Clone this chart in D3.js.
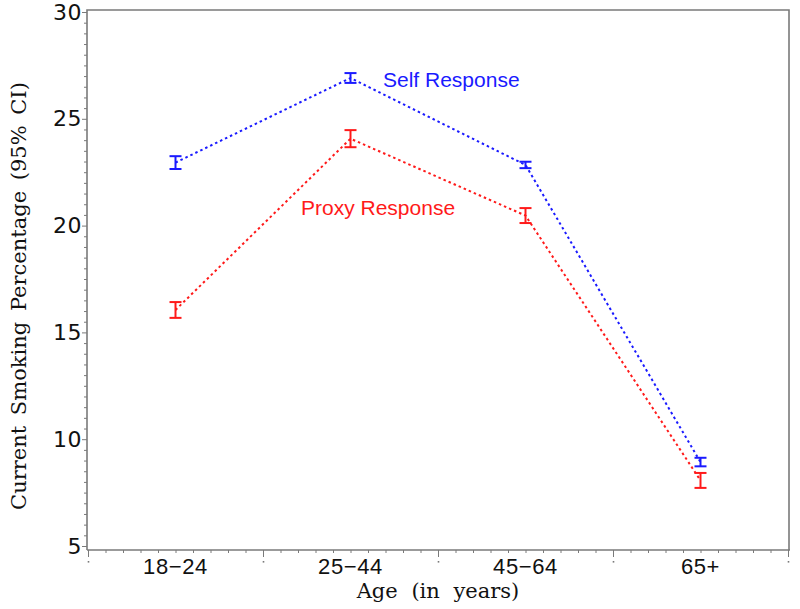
<!DOCTYPE html>
<html><head><meta charset="utf-8">
<script src="https://cdn.jsdelivr.net/npm/d3@7"></script>
<style>body{margin:0;background:#fff}svg{display:block}</style>
</head><body>
<svg id="chart" width="800" height="609"></svg>
<script>
const categories = ["18\u221224", "25\u221244", "45\u221264", "65+"];
const selfValues = [22.95, 26.91, 22.84, 8.93];
const selfLower  = [22.65, 26.68, 22.69, 8.73];
const selfUpper  = [23.25, 27.14, 22.99, 9.13];
const proxyValues = [16.05, 24.07, 20.47, 8.07];
const proxyLower  = [15.68, 23.67, 20.12, 7.72];
const proxyUpper  = [16.42, 24.47, 20.82, 8.42];
const yTicks = [5, 10, 15, 20, 25, 30];
const seriesNames = ["Self Response", "Proxy Response"];
const xTitle = "Age (in years)";
const yTitle = "Current Smoking Percentage (95% CI)";

const svg = d3.select("#chart");
const L = 87, R = 789, T = 10, B = 550;
const x = d3.scaleBand().domain(categories).range([88, 788]).padding(0);
const xLin = d3.scaleLinear().domain([0, categories.length]).range([88, 788]);
const y = d3.scaleLinear().domain([5, 30]).range([546, 12]);
const frameColor = "#7a7a7a";

// frame
svg.append("path")
  .attr("d", `M${L},${B}V${T}H${R}V${B}`)
  .attr("fill", "none").attr("stroke", frameColor).attr("stroke-width", 1.6);

// x axis line + minor ticks
const minorX = d3.range(0, categories.length * 10 + 1).map(d => d / 10);
const gx = svg.append("g").attr("transform", `translate(0,${B})`);
gx.call(d3.axisBottom(xLin).tickValues(minorX).tickSize(3).tickFormat(""));
gx.select(".domain").attr("stroke", frameColor).attr("stroke-width", 1.6).attr("d", `M${L},0H${R+1}`);
gx.selectAll(".tick line").attr("stroke", frameColor).attr("stroke-width", 1)
  .attr("y2", d => (Math.abs(d - Math.round(d)) < 1e-6) ? 7 : 3);
gx.selectAll(".tick").filter(d => Math.abs(d - Math.round(d)) < 1e-6)
  .append("rect").attr("x", -0.8).attr("y", 11).attr("width", 1.6).attr("height", 1.6).attr("fill", frameColor);

// category labels
const gxl = svg.append("g").attr("transform", `translate(0,${B})`);
gxl.call(d3.axisBottom(x).tickSize(0).tickPadding(10));
gxl.select(".domain").remove();
gxl.selectAll(".tick text").attr("font-family", "'Liberation Sans', Arial, sans-serif")
  .attr("font-size", 22).attr("letter-spacing", 0.6).attr("fill", "#111").attr("dy", "0.71em").attr("y", 8);

// y axis ticks
const minorY = d3.range(10, 61).map(d => d / 2);
const gy = svg.append("g").attr("transform", `translate(${L},0)`);
gy.call(d3.axisLeft(y).tickValues(minorY).tickSize(3)
  .tickFormat(d => yTicks.includes(d) ? d : ""));
gy.select(".domain").remove();
gy.selectAll(".tick line").attr("stroke", frameColor).attr("stroke-width", 1)
  .attr("x2", d => yTicks.includes(d) ? -5 : -3);
gy.selectAll(".tick text").attr("x", -5)
  .attr("font-family", "'DejaVu Sans', sans-serif").attr("font-size", 22)
  .attr("letter-spacing", 0.5).attr("fill", "#111");

// axis titles
svg.append("text").attr("x", 438).attr("y", 598).attr("text-anchor", "middle")
  .attr("font-family", "'DejaVu Serif', serif").attr("font-size", 21)
  .attr("word-spacing", 7).attr("fill", "#111").text(xTitle);
svg.append("text").attr("transform", "translate(26,296) rotate(-90)").attr("text-anchor", "middle")
  .attr("font-family", "'DejaVu Serif', serif").attr("font-size", 21)
  .attr("word-spacing", 4).attr("fill", "#111").text(yTitle);

// series
const series = [
  {name: seriesNames[0], color: "#1a1aff", v: selfValues, lo: selfLower, hi: selfUpper},
  {name: seriesNames[1], color: "#ff1a1a", v: proxyValues, lo: proxyLower, hi: proxyUpper}
];
const cx = c => x(c) + x.bandwidth() / 2;
const line = d3.line().x(d => cx(d.c)).y(d => y(d.v));
series.forEach(s => {
  const pts = categories.map((c, i) => ({c, v: s.v[i], lo: s.lo[i], hi: s.hi[i]}));
  svg.append("path").datum(pts).attr("d", line)
    .attr("fill", "none").attr("stroke", s.color).attr("stroke-width", 2)
    .attr("stroke-dasharray", "2.5,3");
  const g = svg.append("g").attr("stroke", s.color).attr("stroke-width", 2);
  g.selectAll("line.v").data(pts).join("line").attr("class", "v")
    .attr("x1", d => cx(d.c)).attr("x2", d => cx(d.c))
    .attr("y1", d => y(d.lo)).attr("y2", d => y(d.hi));
  g.selectAll("line.t").data(pts).join("line").attr("class", "t")
    .attr("x1", d => cx(d.c) - 6).attr("x2", d => cx(d.c) + 6)
    .attr("y1", d => y(d.hi)).attr("y2", d => y(d.hi));
  g.selectAll("line.b").data(pts).join("line").attr("class", "b")
    .attr("x1", d => cx(d.c) - 6).attr("x2", d => cx(d.c) + 6)
    .attr("y1", d => y(d.lo)).attr("y2", d => y(d.lo));
});

// series labels
svg.append("text").attr("x", 383).attr("y", 87)
  .attr("font-family", "'Liberation Sans', Arial, sans-serif").attr("font-size", 21)
  .attr("fill", series[0].color).text(seriesNames[0]);
svg.append("text").attr("x", 301).attr("y", 215)
  .attr("font-family", "'Liberation Sans', Arial, sans-serif").attr("font-size", 21)
  .attr("fill", series[1].color).text(seriesNames[1]);
</script>
</body></html>
